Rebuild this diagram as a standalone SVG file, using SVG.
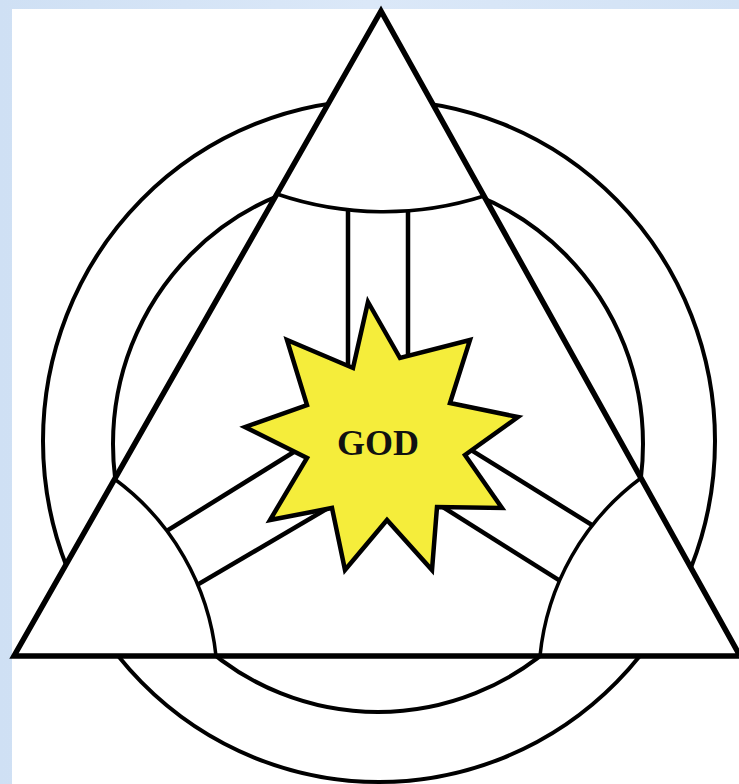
<svg xmlns="http://www.w3.org/2000/svg" width="739" height="784" viewBox="0 0 739 784">
<style>
.circ{fill:none;stroke:#000;stroke-width:4}
.bar{stroke:#000;stroke-width:4.5;fill:none}
.arc{fill:none;stroke:#000;stroke-width:3.5}
.cover{fill:#fff;stroke:none}
</style>
<defs>
<linearGradient id="bg" x1="0" y1="0" x2="1" y2="0">
<stop offset="0" stop-color="#cfe0f4"/>
<stop offset="0.5" stop-color="#dbe8f8"/>
<stop offset="1" stop-color="#d2e2f5"/>
</linearGradient>
</defs>
<rect x="0" y="0" width="739" height="784" fill="url(#bg)"/>
<rect x="12" y="9" width="727" height="775" fill="#fff"/>

<g id="rings">
<ellipse class="circ" cx="379" cy="441" rx="336" ry="341"/>
<ellipse class="circ" cx="378" cy="444" rx="265" ry="268"/>
</g>

<g id="triangle-fill">
<polygon class="cover" points="381,11 14,656 740,656"/>
</g>

<g id="connectors">
<line class="bar" x1="348" y1="200" x2="348" y2="420"/>
<line class="bar" x1="408" y1="200" x2="408" y2="420"/>
<line class="bar" x1="60" y1="597.2" x2="370" y2="404.7"/>
<line class="bar" x1="100" y1="641.9" x2="380" y2="477.6"/>
<line class="bar" x1="680" y1="579.6" x2="390" y2="399.8"/>
<line class="bar" x1="650" y1="637.4" x2="390" y2="473.8"/>
</g>

<g id="corner-top">
<path class="cover" d="M381,11 L276.9,194 A330,330 0 0 0 484,196 Z"/>
<path class="arc" d="M276.9,194 A330,330 0 0 0 484,196"/>
</g>
<g id="corner-left">
<path class="cover" d="M14,656 L114.5,479 A252,252 0 0 1 216,656 Z"/>
<path class="arc" d="M114.5,479 A252,252 0 0 1 216,656"/>
</g>
<g id="corner-right">
<path class="cover" d="M740,656 L641,478 A252,252 0 0 0 540,656 Z"/>
<path class="arc" d="M641,478 A252,252 0 0 0 540,656"/>
</g>

<g id="triangle">
<polygon points="381,11 14,656 740,656" fill="none" stroke="#000" stroke-width="5.5" stroke-linejoin="miter" stroke-miterlimit="10"/>
</g>

<g id="god">
<polygon points="368,302 400,358 470,340 450,403 518,417 465,455 502,508 437,507 432,570 387,520 345,570 332,508 270,520 307,458 245,427 307,405 287,340 353,368" fill="#f5ed3b" stroke="#000" stroke-width="4.5" stroke-linejoin="miter" stroke-miterlimit="10"/>
<text x="378" y="455" font-family="'Liberation Serif', 'DejaVu Serif', serif" font-weight="bold" font-size="36" text-anchor="middle" fill="#111">GOD</text>
</g>
</svg>
